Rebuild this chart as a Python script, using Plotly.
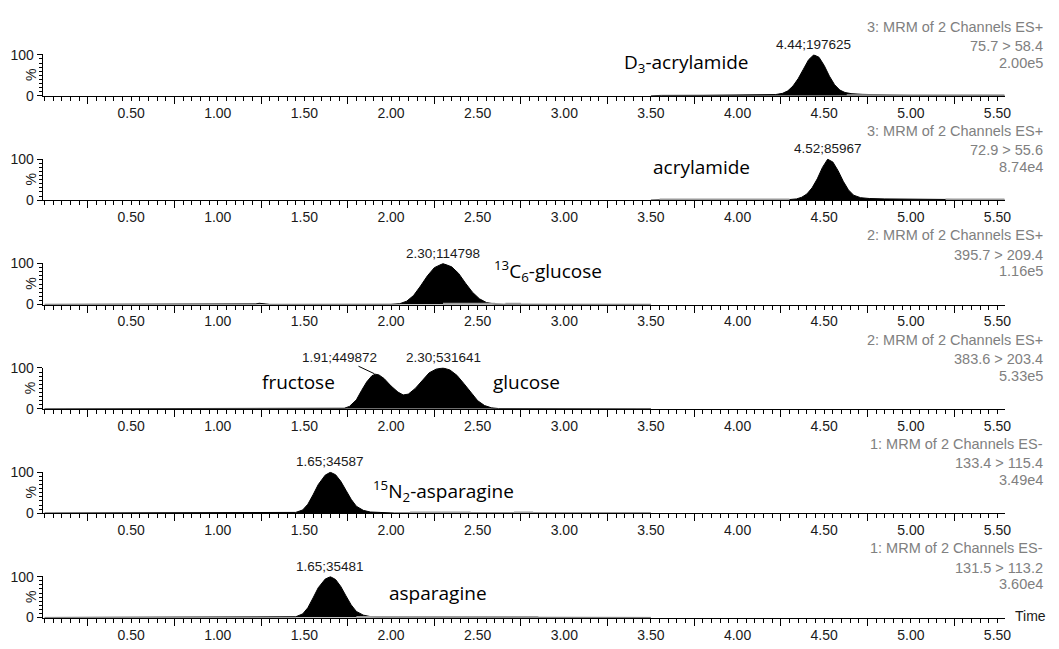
import plotly.graph_objects as go

W, H = 1059, 649

# ---------------- data ----------------
t_d3_acrylamide = [3.50, 3.56, 3.80, 4.00, 4.15, 4.22, 4.26, 4.29, 4.32, 4.35, 4.38, 4.41, 4.44,
                   4.47, 4.50, 4.53, 4.56, 4.59, 4.62, 4.66, 4.72, 4.80, 4.90, 4.96, 5.00, 5.30, 5.54]
i_d3_acrylamide = [0, 1.0, 1.2, 1.5, 2.0, 3.0, 6, 12, 24, 42, 65, 88, 100,
                   94, 74, 48, 27, 14, 8, 5, 3.5, 2.8, 2.2, 1.0, 0.6, 0.5, 0.5]

t_acrylamide = [3.50, 3.55, 3.90, 4.20, 4.30, 4.34, 4.37, 4.40, 4.43, 4.46, 4.49, 4.52, 4.55,
                4.58, 4.61, 4.64, 4.67, 4.71, 4.76, 4.85, 5.00, 5.15, 5.20, 5.54]
i_acrylamide = [0, 0.6, 0.8, 1.0, 1.5, 3, 7, 15, 30, 52, 80, 100, 93,
                72, 46, 25, 12, 6, 4, 3, 2.5, 2.0, 0.5, 0.5]

t_c13_glucose = [0.00, 1.20, 1.22, 1.24, 1.26, 1.28, 1.30, 2.00, 2.05, 2.09, 2.13, 2.17, 2.21,
                 2.25, 2.30, 2.35, 2.39, 2.43, 2.47, 2.51, 2.55, 2.60, 2.65, 3.50]
i_c13_glucose = [0.3, 0.3, 1.5, 3.0, 2.0, 0.5, 0.3, 0.5, 2, 8, 22, 45, 70,
                 90, 100, 92, 76, 52, 30, 14, 5, 1, 0.5, 0.3]

t_fru_glu = [0.00, 1.70, 1.73, 1.76, 1.80, 1.83, 1.86, 1.89, 1.91, 1.93, 1.96, 2.00, 2.04, 2.07,
             2.10, 2.14, 2.18, 2.22, 2.26, 2.30, 2.34, 2.38, 2.42, 2.46, 2.50, 2.54, 2.58, 2.62, 3.50]
i_fru_glu = [0.3, 0.4, 1.5, 6, 22, 45, 66, 81, 84.6, 83, 74, 56, 41, 34,
             36, 50, 70, 88, 97, 100, 95, 82, 62, 40, 20, 8, 2.5, 0.8, 0.3]

t_n15_asparagine = [0.00, 0.95, 0.97, 0.99, 1.40, 1.45, 1.49, 1.52, 1.55, 1.58, 1.62, 1.65,
                    1.68, 1.71, 1.74, 1.77, 1.80, 1.84, 1.88, 1.94, 2.00, 2.02, 3.50]
i_n15_asparagine = [0.3, 0.3, 1.0, 0.3, 0.5, 2, 8, 22, 45, 70, 93, 100,
                    94, 78, 56, 34, 17, 7, 3, 2, 1.5, 0.4, 0.3]

t_asparagine = [0.00, 1.40, 1.45, 1.49, 1.52, 1.55, 1.58, 1.62, 1.65, 1.68, 1.71, 1.74,
                1.77, 1.80, 1.84, 1.88, 1.94, 3.50]
i_asparagine = [0.3, 0.5, 2, 9, 24, 48, 73, 94, 100, 93, 76, 53,
                31, 15, 6, 2.5, 1, 0.3]

# integration-baseline (grey) segments: (start, end) in minutes
baseline_segments = [
    [(4.63, 5.54)],
    [(3.55, 4.30), (5.20, 5.54)],
    [(2.30, 2.60), (2.66, 2.75)],
    [],
    [(2.11, 2.29), (2.29, 2.46), (2.71, 2.82)],
    [(1.80, 2.85)],
]

compound_names = ["D<sub>3</sub>-acrylamide", "acrylamide", "<sup>13</sup>C<sub>6</sub>-glucose",
                  "fructose", "glucose", "<sup>15</sup>N<sub>2</sub>-asparagine", "asparagine"]
channel_titles = ["3: MRM of 2 Channels ES+", "3: MRM of 2 Channels ES+", "2: MRM of 2 Channels ES+",
                  "2: MRM of 2 Channels ES+", "1: MRM of 2 Channels ES-", "1: MRM of 2 Channels ES-"]
transitions = ["75.7 > 58.4", "72.9 > 55.6", "395.7 > 209.4", "383.6 > 203.4", "133.4 > 115.4", "131.5 > 113.2"]
intensities = ["2.00e5", "8.74e4", "1.16e5", "5.33e5", "3.49e4", "3.60e4"]

# peak labels per panel: (retention time, relative height, label)
peak_labels = [
    [(4.44, 100, "4.44;197625")],
    [(4.52, 100, "4.52;85967")],
    [(2.30, 100, "2.30;114798")],
    [(1.91, 84.6, "1.91;449872"), (2.30, 100, "2.30;531641")],
    [(1.65, 100, "1.65;34587")],
    [(1.65, 100, "1.65;35481")],
]

x_tick_vals = [0.50, 1.00, 1.50, 2.00, 2.50, 3.00, 3.50, 4.00, 4.50, 5.00, 5.50]
x_tick_text = ["0.50", "1.00", "1.50", "2.00", "2.50", "3.00", "3.50", "4.00", "4.50", "5.00", "5.50"]
x_long_ticks = [0.25, 0.75, 1.25, 1.75, 2.25, 2.75, 3.25, 3.75, 4.25, 4.75, 5.25]
y_tick_vals = [0, 100]
y_tick_text = ["0", "100"]

series = [
    (t_d3_acrylamide, i_d3_acrylamide),
    (t_acrylamide, i_acrylamide),
    (t_c13_glucose, i_c13_glucose),
    (t_fru_glu, i_fru_glu),
    (t_n15_asparagine, i_n15_asparagine),
    (t_asparagine, i_asparagine),
]

# ---------------- layout geometry ----------------
X_L, X_R = 43, 1011          # plot area in px
Y0_FIRST, STEP = 90, 107      # baseline of first panel and spacing
PANEL_H = 42.4                # px for 0..101
XR = [-0.01, 5.545]
YR = [0, 101]

TICK_FONT = dict(family="Liberation Sans, Arial", size=14, color="#1a1a1a")
GREY_FONT = dict(family="Liberation Sans, Arial", size=14.5, color="#808080")
NAME_FONT = dict(family="Open Sans", size=19, color="black")
PEAK_FONT = dict(family="Liberation Sans, Arial", size=13.5, color="#1a1a1a")


def py(px):
    return 1 - px / H


def pxx(px):
    return px / W


fig = go.Figure()
annotations = []
layout = {}

# compound label positions (px centres)
name_pos = [(690, 56), (705, 163), (551, 270), (300, 383), (530, 383), (446, 495), (440, 600)]

for i, (tt, vv) in enumerate(series):
    n = "" if i == 0 else str(i + 1)
    xa, ya = "x" + n, "y" + n
    y0 = Y0_FIRST + STEP * i
    ytop = y0 - PANEL_H
    fig.add_trace(go.Scatter(x=tt, y=vv, xaxis=xa, yaxis=ya, mode="lines",
                             line=dict(color="black", width=1), fill="tozeroy",
                             fillcolor="black", hoverinfo="skip", showlegend=False))
    for (a, b) in baseline_segments[i]:
        fig.add_trace(go.Scatter(x=[a, b], y=[1.6, 1.6], xaxis=xa, yaxis=ya, mode="lines",
                                 line=dict(color="#9a9a9a", width=2), hoverinfo="skip",
                                 showlegend=False))
    layout["xaxis" + n] = dict(
        domain=[pxx(X_L), pxx(X_R)], range=XR, anchor=ya, showgrid=False, zeroline=False,
        showline=True, linecolor="black", linewidth=1.3, ticks="outside", ticklen=4,
        tickcolor="black", tickvals=x_tick_vals, ticktext=x_tick_text, tickfont=TICK_FONT,
        minor=dict(dtick=0.05, tick0=0, ticklen=4, ticks="outside", tickcolor="black"),
        fixedrange=True)
    # overlay axis for the longer quarter ticks
    ov = str(7 + i)
    layout["xaxis" + ov] = dict(
        domain=[pxx(X_L), pxx(X_R)], range=XR, anchor=ya, overlaying=xa, showgrid=False,
        zeroline=False, showline=False, ticks="outside", ticklen=7, tickcolor="black",
        tickvals=x_long_ticks, showticklabels=False, fixedrange=True)
    fig.add_trace(go.Scatter(x=[None], y=[None], xaxis="x" + ov, yaxis=ya, mode="lines",
                             hoverinfo="skip", showlegend=False))
    layout["yaxis" + n] = dict(
        domain=[py(y0), py(ytop)], range=YR, anchor=xa, showgrid=False, zeroline=False,
        showline=True, linecolor="black", linewidth=1.3, ticks="outside", ticklen=5,
        tickcolor="black", tickvals=y_tick_vals, ticktext=y_tick_text, tickfont=TICK_FONT,
        minor=dict(dtick=10, tick0=0, ticklen=3, ticks="outside", tickcolor="black"),
        fixedrange=True)
    # % label
    annotations.append(dict(xref="paper", yref="paper", x=pxx(31), y=py(y0 - 21), text="%",
                            textangle=-90, showarrow=False, font=TICK_FONT,
                            xanchor="center", yanchor="middle"))
    # right-hand channel info
    for txt, dy in ((channel_titles[i], 71), (transitions[i], 51), (intensities[i], 34)):
        annotations.append(dict(xref="paper", yref="paper", x=pxx(1051), y=py(y0 - dy), text=txt,
                                showarrow=False, font=GREY_FONT, xanchor="right", yanchor="middle"))
    # peak labels
    for (pt, ph, lab) in peak_labels[i]:
        if i == 3 and pt < 2.0:
            annotations.append(dict(xref=xa, yref=ya, x=pt, y=ph, text=lab, showarrow=True,
                                    arrowhead=0, arrowwidth=1, arrowcolor="black", ax=-36, ay=-17,
                                    standoff=1, font=PEAK_FONT))
        else:
            annotations.append(dict(xref=xa, yref=ya, x=pt, y=ph, text=lab, showarrow=False,
                                    yanchor="bottom", yshift=1, font=PEAK_FONT))

for name, (cx, cy) in zip(compound_names, name_pos):
    annotations.append(dict(xref="paper", yref="paper", x=pxx(cx), y=py(cy), text=name,
                            showarrow=False, font=NAME_FONT, xanchor="center", yanchor="middle"))

# "Time" axis title
annotations.append(dict(xref="paper", yref="paper", x=pxx(1019), y=py(Y0_FIRST + STEP * 5 - 2),
                        text="Time", showarrow=False, font=TICK_FONT, xanchor="left",
                        yanchor="middle"))

fig.update_layout(width=W, height=H, margin=dict(l=0, r=0, t=0, b=0), paper_bgcolor="white",
                  plot_bgcolor="white", annotations=annotations, **layout)

fig.write_html("out.html", config={"displayModeBar": False},
               post_script="document.body.style.margin='0';")
